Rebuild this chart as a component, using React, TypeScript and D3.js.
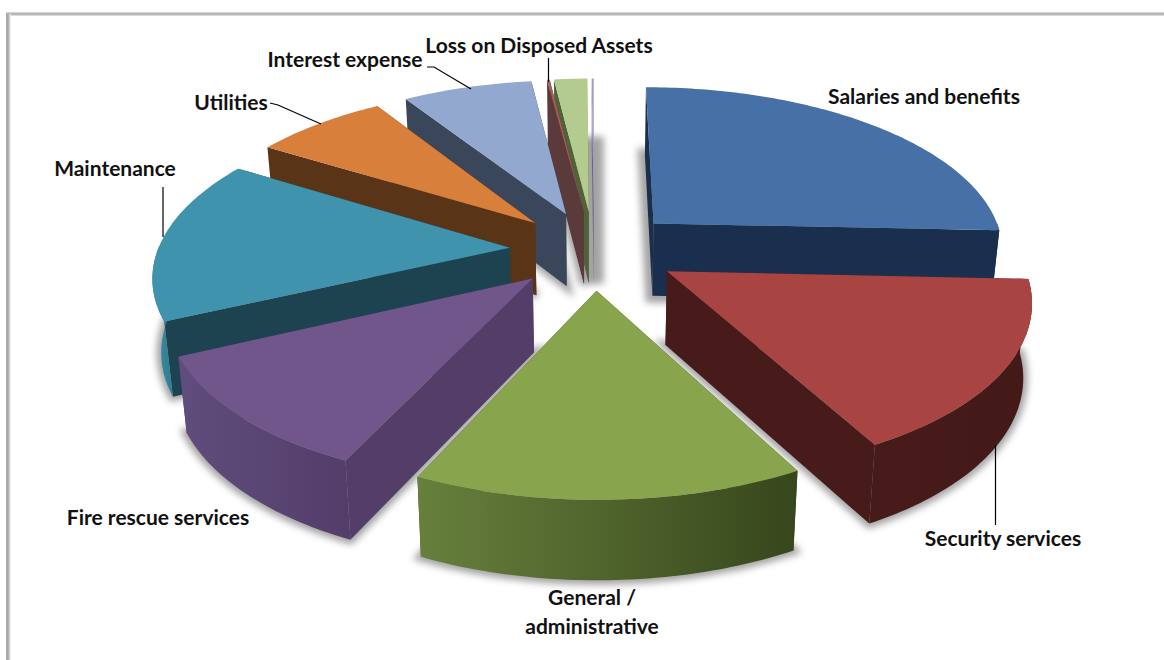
import React from "react";
import * as d3 from "d3";

// Share of total expenses per category, in percent, clockwise from twelve o'clock.
const categories = [
  "Salaries and benefits",
  "Security services",
  "General / administrative",
  "Fire rescue services",
  "Maintenance",
  "Utilities",
  "Interest expense",
  "Loss on Disposed Assets",
  "Other A",
  "Other B",
];
const shares = [25.7, 16.44, 14.8, 11.11, 15.7, 7.2, 7.0, 0.14, 1.8, 0.11];

// Face colours, one entry per category.
const topColors = ["#4670a6", "#a84543", "#88a54e", "#70568b", "#3f93ac", "#d87f3b", "#92a8cf", "#a85a58", "#b3cb8e", "#a99bbd"];
const sideColors = ["#1a2e4d", "#461b19", "#38471c", "#533e68", "#1c434f", "#5a3416", "#3a4659", "#5a3a3a", "#4f6238", "#6d6080"];
const wallLeft = ["#1a2e4d", "#471b19", "#67803c", "#604d7d", "#3d8da6", "#5a3416", "#3a4659", "#5a3a3a", "#4f6238", "#6d6080"];
const wallRight = ["#1a2e4d", "#431a18", "#37461c", "#533d69", "#2f7c92", "#5a3416", "#3a4659", "#5a3a3a", "#4f6238", "#6d6080"];

// How far each slice's drop shadow spreads beyond its base, in pixels.
const shadowSpread = [14, 9, 9, 9, 9, 9, 9, 9, 14, 20];

// Slices painted back to front.
const paintOrder = [9, 8, 7, 6, 5, 4, 0, 3, 1, 2];

// Pie geometry: disc centre on screen, radii, perspective strength and explosion.
const CX = 594;
const CY = 250;
const RX = 352;
const RY = 164;
const PERSPECTIVE = 0.15;
const EXPLODE = 0.24;
const THICKNESS = 73;
const TAPER = 0.98;

const xScale = d3.scaleLinear().domain([-1, 1]).range([CX - RX, CX + RX]);
const yScale = d3.scaleLinear().domain([-1, 1]).range([CY + RY, CY - RY]);

type Pt = [number, number];

const project = (u: number, v: number): Pt => {
  const w = 1 + PERSPECTIVE * v;
  return [xScale(u / w), yScale(v / w)];
};
const lower = ([x, y]: Pt): Pt => [CX + (x - CX) * TAPER, y + THICKNESS + 0.03 * (y - CY)];

const lineGen = d3.line<Pt>().curve(d3.curveLinearClosed);

const pieGen = d3.pie<number>().sort(null).startAngle(0).endAngle(2 * Math.PI);
const arcs = pieGen(shares);

const slices = arcs.map((a, i) => {
  const mid = (a.startAngle + a.endAngle) / 2;
  const ox = EXPLODE * Math.sin(mid);
  const oy = EXPLODE * Math.cos(mid);
  const apex = project(ox, oy);
  const steps = Math.max(2, Math.ceil((a.endAngle - a.startAngle) * 60));
  const angles = d3.range(steps + 1).map((s) => a.startAngle + ((a.endAngle - a.startAngle) * s) / steps);
  const rim: Pt[] = angles.map((t) => project(ox + Math.sin(t), oy + Math.cos(t)));
  const rimLow = rim.map(lower);
  const apexLow = lower(apex);
  // Only the front-facing stretch of the curved wall is seen.
  const frontIdx = d3.range(steps + 1).filter((s) => Math.cos(angles[s]) < 0.02);
  const frontRim = frontIdx.map((s) => rim[s]);
  const frontLow = frontIdx.map((s) => rimLow[s]);
  return {
    i,
    top: lineGen([apex, ...rim]) as string,
    bottom: lineGen([apexLow, ...rimLow]) as string,
    wallStart: lineGen([apex, rim[0], rimLow[0], apexLow]) as string,
    wallEnd: lineGen([apex, rim[steps], rimLow[steps], apexLow]) as string,
    wallOuter: frontRim.length > 1 ? (lineGen([...frontRim, ...frontLow.reverse()]) as string) : null,
  };
});

// Label text lines with their centre points, and the thin leader strokes.
const labels: { lines: string[]; x: number; y: number }[] = [
  { lines: [categories[0]], x: 924, y: 97 },
  { lines: [categories[1]], x: 1003, y: 539 },
  { lines: ["General /", "administrative"], x: 592, y: 598 },
  { lines: [categories[3]], x: 158, y: 518 },
  { lines: [categories[4]], x: 115, y: 169 },
  { lines: [categories[5]], x: 231, y: 103 },
  { lines: [categories[6]], x: 345, y: 60 },
  { lines: [categories[7]], x: 539, y: 46 },
];
const leaders: Pt[][] = [
  [[427, 67], [434, 67], [471, 89]],
  [[270, 103], [278, 105], [321, 124]],
  [[163, 187], [163, 237]],
  [[548.5, 58], [548.5, 82]],
  [[995.5, 445], [995.5, 525]],
];
const leaderGen = d3.line<Pt>();

export default function App() {
  return (
    <svg
      width={1164}
      height={660}
      viewBox="0 0 1164 660"
      style={{ position: "absolute", left: 0, top: 0, display: "block", background: "#fff" }}
    >
      <defs>
        <filter id="pieShadow" x="-30%" y="-30%" width="160%" height="160%">
          <feGaussianBlur stdDeviation="3.5" />
        </filter>
        <linearGradient id="frameTop" x1="0" x2="0" y1="0" y2="1">
          <stop offset="0" stopColor="#e4e4e4" />
          <stop offset="0.5" stopColor="#a8a8a8" />
          <stop offset="1" stopColor="#ececec" />
        </linearGradient>
        <linearGradient id="frameLeft" x1="0" x2="1" y1="0" y2="0">
          <stop offset="0" stopColor="#b0b0b0" />
          <stop offset="0.4" stopColor="#a4a4a4" />
          <stop offset="1" stopColor="#ffffff" />
        </linearGradient>
        {slices.map((s) => (
          <linearGradient key={s.i} id={`wall${s.i}`} x1="0" x2="1" y1="0" y2="0">
            <stop offset="0" stopColor={wallLeft[s.i]} />
            <stop offset="1" stopColor={wallRight[s.i]} />
          </linearGradient>
        ))}
      </defs>

      <rect x={6} y={12} width={1158} height={4} fill="url(#frameTop)" />
      <rect x={6} y={14} width={5} height={646} fill="url(#frameLeft)" />

      <g filter="url(#pieShadow)" opacity={0.6}>
        {slices.map((s) => (
          <path key={s.i} d={s.bottom} fill="#666" stroke="#666" strokeWidth={shadowSpread[s.i]} />
        ))}
      </g>

      <g>
        {paintOrder.map((i) => {
          const s = slices[i];
          return (
            <g key={i}>
              <path d={s.wallEnd} fill={sideColors[i]} />
              <path d={s.wallStart} fill={sideColors[i]} />
              {s.wallOuter && <path d={s.wallOuter} fill={`url(#wall${i})`} />}
              <path d={s.top} fill={topColors[i]} />
            </g>
          );
        })}
      </g>

      <g fill="none" stroke="#000" strokeWidth={1.2}>
        {leaders.map((l, i) => (
          <path key={i} d={leaderGen(l) as string} />
        ))}
      </g>

      <g fontFamily="Lato, 'Open Sans', sans-serif" fontWeight={700} fontSize={21} fill="#111" textAnchor="middle">
        {labels.map((l) =>
          l.lines.map((t, j) => (
            <text key={t} x={l.x} y={l.y + 7 + j * 29}>
              {t}
            </text>
          ))
        )}
      </g>
    </svg>
  );
}
